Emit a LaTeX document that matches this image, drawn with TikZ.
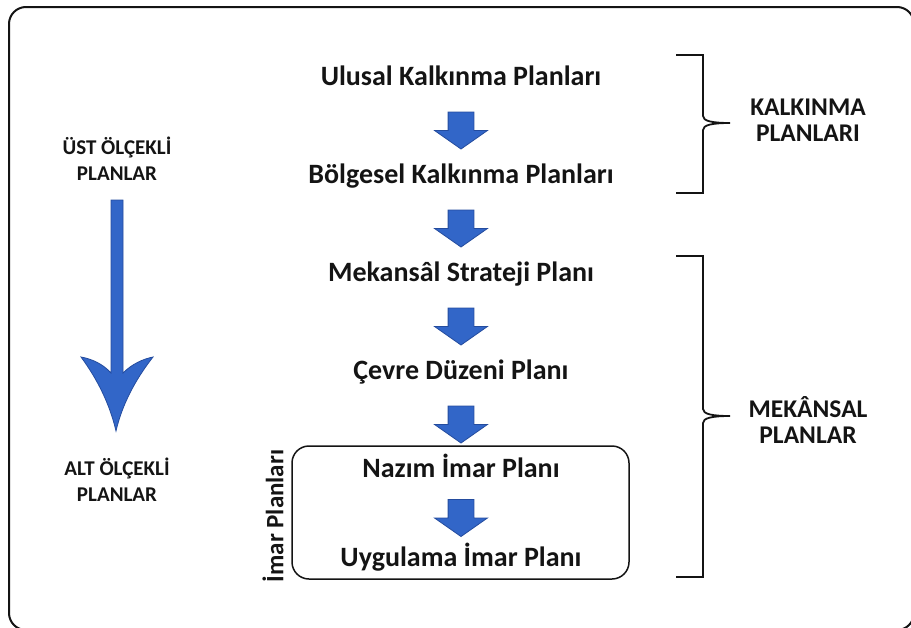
\documentclass[tikz,border=0pt]{standalone}
\usepackage{fontspec}
\setmainfont{Carlito}
\usetikzlibrary{shapes.arrows,calc}

\definecolor{arrowblue}{RGB}{50,102,200}
\definecolor{arrowedge}{RGB}{36,76,158}
\definecolor{inkblack}{RGB}{20,20,20}

\tikzset{
  plan/.style={font=\fontsize{28}{32}\selectfont\bfseries, text=inkblack, inner sep=0pt, anchor=base},
  scalelabel/.style={font=\fontsize{21}{26}\selectfont\bfseries, align=center, text=inkblack},
  grouplabel/.style={font=\fontsize{25.5}{26}\selectfont\bfseries, align=center, text=inkblack},
  downarrow/.style={single arrow, draw=arrowedge, fill=arrowblue, line width=0.8pt,
    rotate=-90, inner xsep=0pt, inner ysep=12.5pt, minimum height=37pt,
    single arrow head extend=13.5pt, single arrow tip angle=110},
  bracket/.style={line width=1.8pt, draw=inkblack}
}

\begin{document}
\begin{tikzpicture}[x=1pt,y=-1pt]
\useasboundingbox (0,0) rectangle (911,627);
\clip (0,0) rectangle (911,627);
 % outer frame:
\draw[line width=2pt, inkblack, rounded corners=17pt] (9,7) rectangle (914,630);

 % plan levels:
\node[plan] (ulusal) at (461,85) {Ulusal Kalkınma Planları};
\node[plan] (bolgesel) at (461,183) {Bölgesel Kalkınma Planları};
\node[plan] (mekansal) at (461,281) {Mekansâl Strateji Planı};
\node[plan] (cevre) at (461,379) {Çevre Düzeni Planı};
\node[plan] (nazim) at (461,477) {Nazım İmar Planı};
\node[plan] (uygulama) at (461,566) {Uygulama İmar Planı};

 % blue arrows between levels:
\node[downarrow] (a1) at ($(ulusal.base)!0.5!(bolgesel.base)+(0pt,8pt)$) {};
\node[downarrow] (a2) at ($(bolgesel.base)!0.5!(mekansal.base)+(0pt,8pt)$) {};
\node[downarrow] (a3) at ($(mekansal.base)!0.5!(cevre.base)+(0pt,8pt)$) {};
\node[downarrow] (a4) at ($(cevre.base)!0.5!(nazim.base)+(0pt,8pt)$) {};
\node[downarrow] (a5) at ($(nazim.base)!0.5!(uygulama.base)+(0pt,8pt)$) {};

 % imar box:
\draw[line width=1.5pt, inkblack, rounded corners=17pt] (292,446) rectangle (629,579);
\node[font=\fontsize{25}{28}\selectfont\bfseries, text=inkblack, rotate=90] (imar) at (273,516) {İmar Planları};

 % left scale:
\node[scalelabel] (ust) at (117,159) {ÜST ÖLÇEKLİ\\PLANLAR};
\node[scalelabel] (alt) at (117,480) {ALT ÖLÇEKLİ\\PLANLAR};
\filldraw[fill=arrowblue, draw=arrowedge, line width=0.8pt]
  (111,200) -- (123,200) -- (123,373)
  .. controls (132,364) and (143,359) .. (153,357)
  .. controls (135,380) and (122,405) .. (116,431)
  .. controls (110,405) and (98,380) .. (81,357)
  .. controls (92,359) and (103,364) .. (111,373) -- cycle;

 % bracket kalkinma:
\draw[bracket] (676,55) -- (703,55) -- (703,116)
  .. controls (703,121) and (712,123) .. (730,123)
  .. controls (712,123) and (703,125) .. (703,130) -- (703,193) -- (676,193);
\node[grouplabel] (kalkinma) at (808,120) {KALKINMA\\PLANLARI};

 % bracket mekansal:
\draw[bracket] (676,256) -- (703,256) -- (703,409)
  .. controls (703,414) and (712,416) .. (730,416)
  .. controls (712,416) and (703,418) .. (703,423) -- (703,577) -- (676,577);
\node[grouplabel] (mekan) at (808,420) {MEKÂNSAL\\PLANLAR};
\end{tikzpicture}
\end{document}
